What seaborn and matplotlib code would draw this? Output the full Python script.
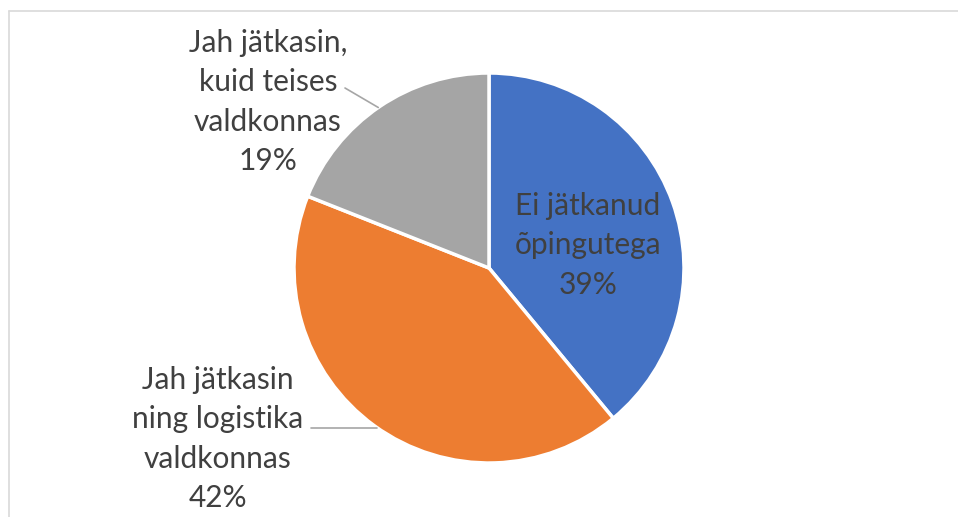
import numpy as np
import matplotlib
matplotlib.use("Agg")
import matplotlib.pyplot as plt
from matplotlib.lines import Line2D
import seaborn as sns

# andmed
categories = ["Ei jätkanud\nõpingutega", "Jah jätkasin\nning logistika\nvaldkonnas", "Jah jätkasin,\nkuid teises\nvaldkonnas"]
shares = [39, 42, 19]
colors = ["#4472C4", "#ED7D31", "#A5A5A5"]

sns.set_theme(style="white")
plt.rcParams['font.family'] = ['Lato', 'DejaVu Sans']

W, H = 958, 517
fig = plt.figure(figsize=(W / 100, H / 100), dpi=100)
ax = fig.add_axes([0, 0, 1, 1])

cx, cy, r = 489, H - 268, 195
wedges, _ = ax.pie(shares, colors=sns.color_palette(colors), startangle=90, counterclock=False,
                   center=(cx, cy), radius=r, frame=True,
                   wedgeprops=dict(edgecolor="white", linewidth=2.5))
ax.set_xlim(0, W)
ax.set_ylim(0, H)
ax.set_aspect('equal')
ax.axis('off')

textColor = "#404040"
pct = [f"{v}%" for v in shares]
# sildid (x, y pikslites, ülevalt)
labelPos = [(588, 245), (218, 439), (268, 102)]
for lab, p, (lx, ly) in zip(categories, pct, labelPos):
    ax.text(lx, H - ly, lab + "\n" + p, ha="center", va="center", fontsize=21.5,
            color=textColor, linespacing=1.5)

# juhtjooned
def edgePoint(angleDeg):
    a = np.deg2rad(angleDeg)
    return cx + r * np.cos(a), cy + r * np.sin(a)

ex, ey = edgePoint(235)
ax.plot([311, ex], [ey, ey], color="#A6A6A6", lw=1.2)
ex, ey = edgePoint(124.6)
ax.plot([345, ex], [H - 88, ey], color="#A6A6A6", lw=1.2)

# diagrammi raam
fig.add_artist(Line2D([9 / W, 1], [1 - 11 / H, 1 - 11 / H], color="#D9D9D9", lw=1.2))
fig.add_artist(Line2D([9 / W, 9 / W], [0, 1 - 11 / H], color="#D9D9D9", lw=1.2))

fig.savefig("out.png", dpi=100)
